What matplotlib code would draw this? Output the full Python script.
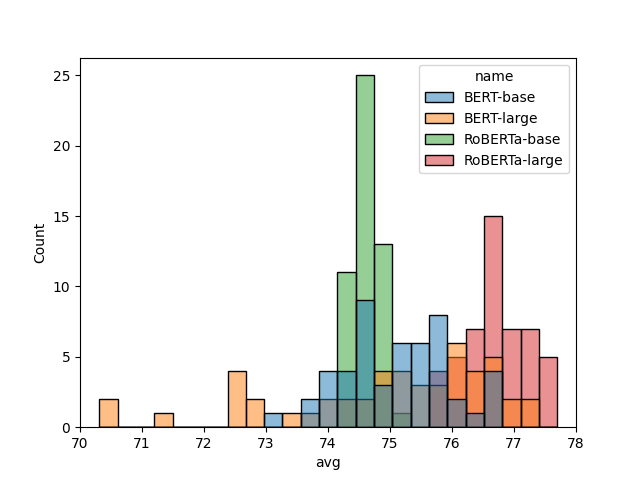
import numpy as np
import pandas as pd
import matplotlib
matplotlib.use("Agg")
import matplotlib.pyplot as plt
import seaborn as sns

# histogram bins (25 bins)
bin_lo = 70.31
bin_hi = 77.70
n_bins = 25

names = ['BERT-base', 'BERT-large', 'RoBERTa-base', 'RoBERTa-large']

# counts per bin
bert_base = [0, 0, 0, 0, 0, 0, 0, 0, 0, 1, 0, 2, 4, 4, 9, 3, 6, 6, 8, 2, 1, 4, 0, 0, 0]
bert_large = [2, 0, 0, 1, 0, 0, 0, 4, 2, 0, 1, 1, 2, 2, 2, 4, 4, 3, 3, 6, 4, 5, 2, 2, 0]
roberta_base = [0, 0, 0, 0, 0, 0, 0, 0, 0, 0, 0, 0, 0, 11, 25, 13, 1, 0, 0, 0, 0, 0, 0, 0, 0]
roberta_large = [0, 0, 0, 0, 0, 0, 0, 0, 0, 0, 0, 0, 0, 0, 0, 0, 0, 0, 4, 5, 7, 15, 7, 7, 5]

edges = np.linspace(bin_lo, bin_hi, n_bins + 1)
centers = (edges[:-1] + edges[1:]) / 2

rows = []
for name, counts in zip(names, [bert_base, bert_large, roberta_base, roberta_large]):
    for c, n in zip(centers, counts):
        rows.append({'avg': c, 'name': name, 'count': n})
df = pd.DataFrame(rows)

fig, ax = plt.subplots(figsize=(6.4, 4.8))
sns.histplot(data=df, x='avg', hue='name', weights='count', bins=n_bins,
             binrange=(bin_lo, bin_hi), hue_order=names, ax=ax)
ax.set_xlim(70, 78)
ax.set_ylabel('Count')
ax.set_xlabel('avg')

plt.savefig('out.png', dpi=100)
